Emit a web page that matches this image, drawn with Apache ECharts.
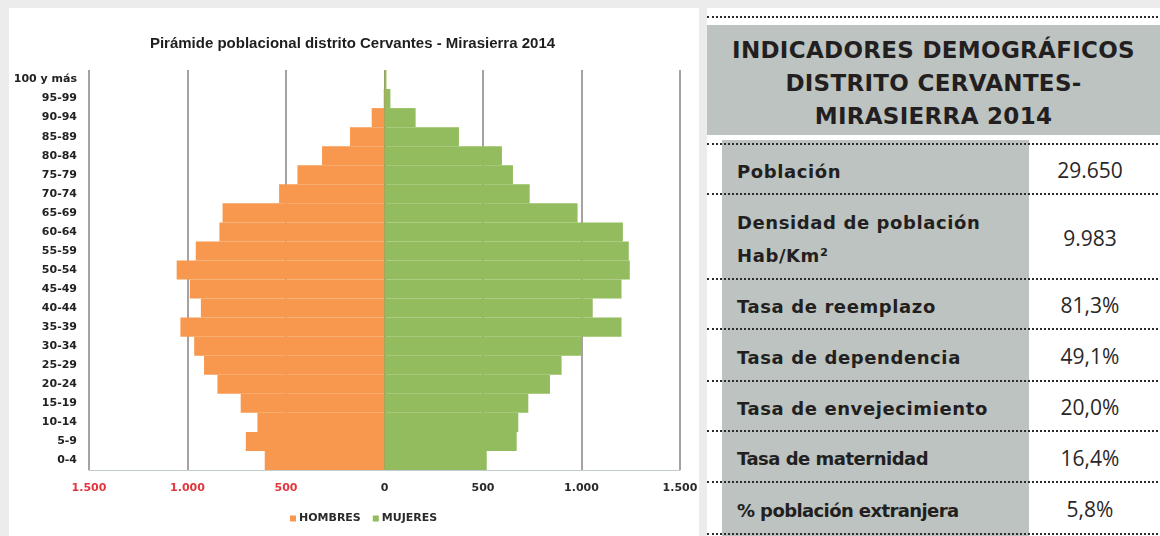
<!DOCTYPE html>
<html>
<head>
<meta charset="utf-8">
<script src="https://cdn.jsdelivr.net/npm/echarts@6/dist/echarts.min.js"></script>
<style>
  html, body { margin:0; padding:0; }
  body { width:1160px; height:536px; overflow:hidden; position:relative; background:#ececec; }
  #left { position:absolute; left:9px; top:8px; width:690px; height:528px; background:#fff; }
  #right { position:absolute; left:707px; top:8px; width:453px; height:528px; background:#fff; }
  .dots { position:absolute; left:0; width:451px; height:0; border-top:2px dotted #2b2b2b; }
  #hdr { position:absolute; left:0; top:17px; width:453px; height:110px; background:#bcc3c1; }
  #hdrtext { position:absolute; left:0; top:9px; width:453px; text-align:center;
    font-family:"DejaVu Sans", sans-serif; font-weight:bold; font-size:23px; line-height:33px; color:#231f20; letter-spacing:0.3px; }
  #graycol { position:absolute; left:15px; top:132px; width:307px; height:396px; background:#bcc3c1; }
  .lab { position:absolute; left:30px; font-family:"DejaVu Sans", sans-serif; font-weight:bold; font-size:18px; color:#231f20; line-height:33px; white-space:nowrap; }
  .val { position:absolute; left:322px; width:122px; text-align:center; font-family:"Open Sans", sans-serif; font-size:21px; line-height:28px; color:#2a2728; }
</style>
</head>
<body>
<div id="left"></div>
<div id="right">
  <div class="dots" style="top:8px"></div>
  <div id="hdr"><div id="hdrtext"></div></div>
  <div id="graycol"></div>
</div>
<script>
// ---- chart data (bottom to top) ----
const ageGroups = ['0-4','5-9','10-14','15-19','20-24','25-29','30-34','35-39','40-44','45-49','50-54','55-59','60-64','65-69','70-74','75-79','80-84','85-89','90-94','95-99','100 y más'];
const hombres = [608,704,645,730,848,916,966,1036,932,988,1055,958,838,822,535,442,317,175,65,4,1];
const mujeres = [519,671,679,730,840,899,1000,1203,1057,1203,1245,1240,1210,980,737,652,596,378,158,30,10];
const xTickValues = [-1500,-1000,-500,0,500,1000,1500];
const seriesNames = ['HOMBRES','MUJERES'];
const chartTitle = 'Pirámide poblacional distrito Cervantes - Mirasierra 2014';

// ---- table data ----
const tableTitle = ['INDICADORES DEMOGRÁFICOS','DISTRITO CERVANTES-','MIRASIERRA 2014'];
const indicatorLabels = ['Población','Densidad de población<br>Hab/Km²','Tasa de reemplazo','Tasa de dependencia','Tasa de envejecimiento','Tasa de maternidad','% población extranjera'];
const indicatorValues = ['29.650','9.983','81,3%','49,1%','20,0%','16,4%','5,8%'];

// ---- table build ----
const right = document.getElementById('right');
document.getElementById('hdrtext').innerHTML = tableTitle.join('<br>');
const rowLines = [135,185,270,320,372,422,473,525];
rowLines.forEach(y => { const d=document.createElement('div'); d.className='dots'; d.style.top=y+'px'; right.appendChild(d); });
const spacing = ['0.6px','0.6px','0.6px','0.6px','0.6px','-0.5px','-0.6px'];
indicatorLabels.forEach((t,i) => {
  const top = rowLines[i], bot = rowLines[i+1];
  const lines = t.split('<br>').length;
  const h = lines*33;
  const l = document.createElement('div'); l.className='lab';
  l.innerHTML = t;
  l.style.top = ((top+bot)/2 - h/2 + 3) + 'px';
  l.style.letterSpacing = spacing[i];
  right.appendChild(l);
  const v = document.createElement('div'); v.className='val';
  v.textContent = indicatorValues[i];
  v.style.top = ((top+bot)/2 - 14 + 2) + 'px';
  right.appendChild(v);
});

// ---- chart ----
function fmt(v){ const a=Math.abs(v); return a>=1000 ? Math.floor(a/1000)+'.'+String(a%1000).padStart(3,'0') : String(a); }
const FONT = '"DejaVu Sans", sans-serif';
const chart = echarts.init(document.getElementById('left'), null, {renderer:'canvas'});
const gridColors = xTickValues.map(v => v === 0 ? '#4d6634' : '#8b8282');
chart.setOption({
  animation:false,
  backgroundColor:'#fff',
  graphic:[{type:'text', x:343.5, y:36, style:{text:chartTitle, x:0, y:0, textAlign:'center', textVerticalAlign:'middle',
    font:'bold 15px "Liberation Sans", sans-serif', fill:'#1e1e1e'}}],
  legend:{ data:seriesNames, left:281, top:505, padding:0, icon:'rect', itemWidth:6, itemHeight:6, itemGap:12,
    textStyle:{fontFamily:FONT, fontSize:11, fontWeight:'bold', color:'#2a2a2a', padding:[0,0,0,-2]} },
  grid:{ left:80, top:62, width:591, height:400, containLabel:false, outerBoundsMode:'none' },
  xAxis:{ type:'value', min:xTickValues[0], max:xTickValues[xTickValues.length-1], interval:500,
    axisLine:{show:true, lineStyle:{color:'#c3cccc', width:1}},
    axisTick:{show:false},
    splitLine:{show:true, lineStyle:{color:gridColors, width:1.5}},
    axisLabel:{ margin:13, formatter: v => (v<0 ? '{r|' : '{k|') + fmt(v) + '}',
      rich:{ r:{color:'#e2353c', fontFamily:FONT, fontSize:11, fontWeight:'bold'},
             k:{color:'#2a2a2a', fontFamily:FONT, fontSize:11, fontWeight:'bold'} } } },
  yAxis:{ type:'category', data:ageGroups,
    axisLine:{show:false, onZero:false}, axisTick:{show:false}, splitLine:{show:false},
    axisLabel:{ margin:12, color:'#222', fontFamily:FONT, fontSize:11, fontWeight:'bold', interval:0 } },
  series:[
    { name:seriesNames[0], type:'bar', data:hombres.map(v => -v), barGap:'-100%', barCategoryGap:'0%',
      itemStyle:{color:'#f7984e'} },
    { name:seriesNames[1], type:'bar', data:mujeres, barGap:'-100%', barCategoryGap:'0%',
      itemStyle:{color:'#92bc5d'} }
  ]
});
</script>
</body>
</html>
